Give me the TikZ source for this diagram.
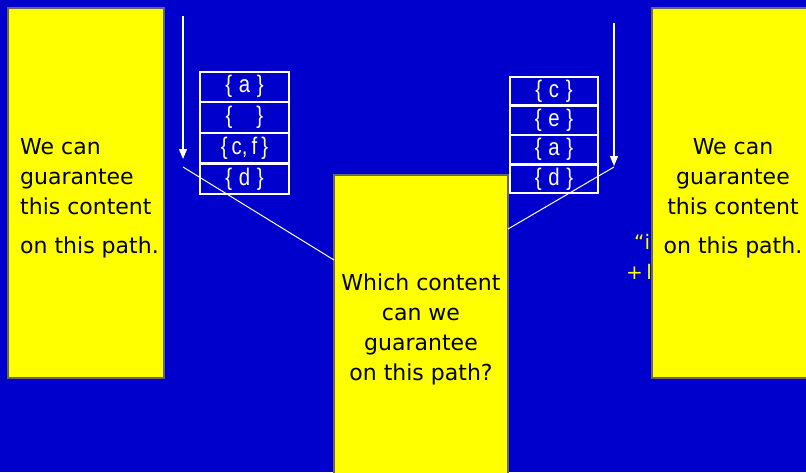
\documentclass[tikz,border=0pt]{standalone}
\usepackage{fontspec}
\setmainfont{DejaVu Sans}
\newfontfamily\cellfont[FakeStretch=0.85]{Liberation Sans}
\usetikzlibrary{arrows.meta, calc, positioning}

\definecolor{slideblue}{RGB}{0,0,204}
\definecolor{noteyellow}{RGB}{255,255,0}

\tikzset{
  notebox/.style={draw=black!60, line width=1.3pt, fill=noteyellow, inner sep=0pt},
  setcell/.style={draw=white, line width=1.3pt, minimum width=89pt, minimum height=29.5pt,
    inner sep=0pt, text=white, font=\cellfont\fontsize{24}{24}\selectfont},
  notetext/.style={text=black, font=\fontsize{22}{30}\selectfont, inner sep=0pt},
}

\begin{document}
\begin{tikzpicture}[x=1pt, y=-1pt, >={Triangle[width=8pt,length=10pt]}]
  \useasboundingbox (0,0) rectangle (806,472);
  \clip (0,0) rectangle (806,472);
  \fill[slideblue] (0,0) rectangle (806,472);

  % hidden text behind the right note
  \node[anchor=west, text=noteyellow, font=\fontsize{20}{20}\selectfont, inner sep=0pt] (fragq) at (634,242) {“i};
  \node[anchor=west, text=noteyellow, font=\fontsize{20}{20}\selectfont, inner sep=0pt] (fragp) at (626,272) {+\,l};

  % yellow notes
  \node[notebox, minimum width=156pt, minimum height=370pt] (leftnote) at (86,193) {};
  \node[notebox, minimum width=170pt, minimum height=370pt] (rightnote) at (737,193) {};
  \node[notebox, minimum width=174pt, minimum height=315pt] (midnote) at (421,332.5) {};

  \node[notetext, anchor=north west, align=left] (lefttext) at (20,138)
    {We can\\guarantee\\this content\\[9pt]on this path.};
  \node[notetext, anchor=north, align=center] (righttext) at (733,138)
    {We can\\guarantee\\this content\\[9pt]on this path.};
  \node[notetext, align=center] (midtext) at (421,329)
    {Which content\\can we\\guarantee\\on this path?};

  % arrows down the two paths
  \coordinate (ltop) at (183,16);
  \coordinate (ltip) at (183,159);
  \coordinate (lfoot) at (183,167);
  \coordinate (lhit) at (334,260);
  \draw[->, white, line width=1.2pt] (ltop) -- (ltip);
  \draw[white, line width=1pt] (lfoot) -- (lhit);

  \coordinate (rtop) at (614,23);
  \coordinate (rtip) at (614,166);
  \coordinate (rfoot) at (614,167);
  \coordinate (rhit) at (508,229);
  \draw[->, white, line width=1.2pt] (rtop) -- (rtip);
  \draw[white, line width=1pt] (rfoot) -- (rhit);

  % left table
  \node[setcell] (la) at (244.5,86.75) {\{\;a\;\}};
  \node[setcell, below=0pt of la] (lnone) {\{\quad\}};
  \node[setcell, below=0pt of lnone] (lcf) {\{\,c,\,f\,\}};
  \node[setcell, below=0pt of lcf] (ld) {\{\;d\;\}};

  % right table
  \node[setcell, minimum width=88pt, minimum height=28pt] (rc) at (554,91) {\{\;c\;\}};
  \node[setcell, minimum width=88pt, minimum height=28pt, below=0pt of rc] (re) {\{\;e\;\}};
  \node[setcell, minimum width=88pt, minimum height=28pt, below=0pt of re] (ra) {\{\;a\;\}};
  \node[setcell, minimum width=88pt, minimum height=28pt, below=0pt of ra] (rd) {\{\;d\;\}};
\end{tikzpicture}
\end{document}
